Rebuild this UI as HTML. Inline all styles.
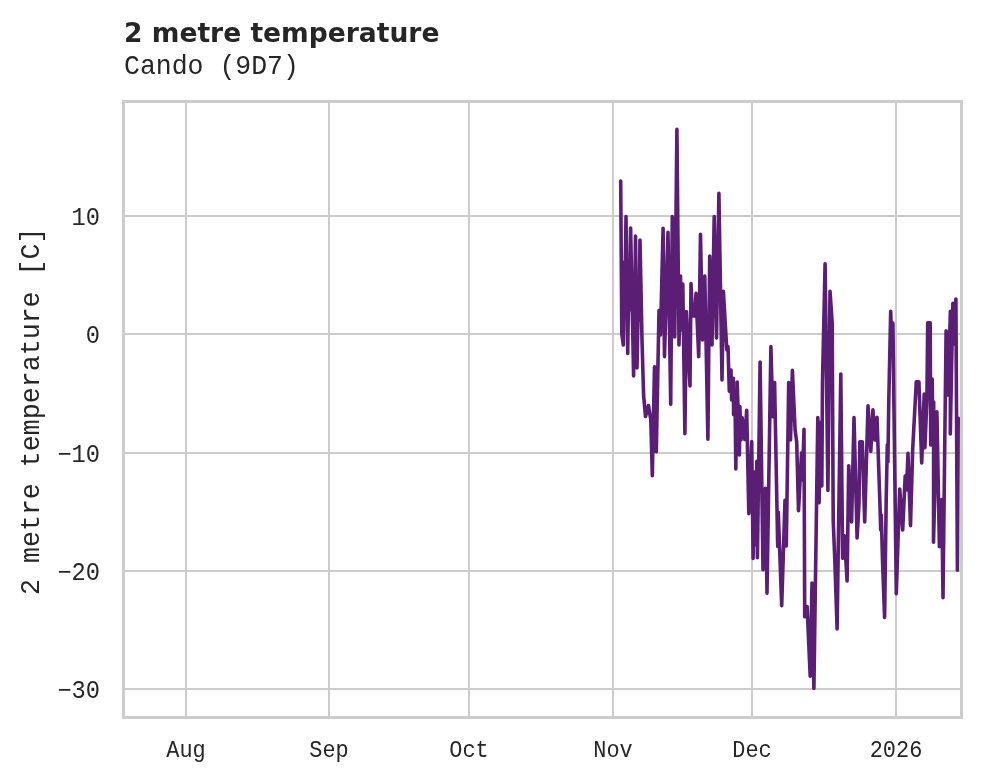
<!DOCTYPE html>
<html lang="en">
<head>
<meta charset="utf-8">
<title>2 metre temperature</title>
<style>
html,body{margin:0;padding:0;background:#fff;}
body{width:981px;height:782px;overflow:hidden;}
svg{display:block;}
.mono{font-family:"Liberation Mono","DejaVu Sans Mono",monospace;fill:#262626;}
.title{font-family:"DejaVu Sans","Liberation Sans",sans-serif;font-weight:bold;fill:#262626;}
.grid line{stroke:#cccccc;stroke-width:2;}
</style>
</head>
<body>
<svg width="981" height="782" viewBox="0 0 981 782">
<rect x="0" y="0" width="981" height="782" fill="#ffffff"/>
<g class="grid">
<line x1="186" y1="102" x2="186" y2="717"/>
<line x1="329" y1="102" x2="329" y2="717"/>
<line x1="469" y1="102" x2="469" y2="717"/>
<line x1="613" y1="102" x2="613" y2="717"/>
<line x1="752" y1="102" x2="752" y2="717"/>
<line x1="896" y1="102" x2="896" y2="717"/>
<line x1="124" y1="216" x2="961" y2="216"/>
<line x1="124" y1="334" x2="961" y2="334"/>
<line x1="124" y1="453" x2="961" y2="453"/>
<line x1="124" y1="571" x2="961" y2="571"/>
<line x1="124" y1="689" x2="961" y2="689"/>
</g>
<g id="series"><polyline fill="none" stroke="#5a1e75" stroke-width="3.6" stroke-linejoin="round" stroke-linecap="round" points="620.7,181 621.8,334 623.3,345 624.3,262 624.8,300 626,216.5 627.7,353.5 628.9,268 629.4,310 630.6,228 633.6,376 634.3,280 634.7,315 635.5,236 637,368 638.6,285 639,320 640,240 642,340 643.6,395 645.5,416.5 648.5,405.5 650.8,420 652.3,475.6 654.5,366.7 656.3,451.6 659,310.5 660.5,335 663.1,228.4 664.5,356.6 668,232.4 670.7,404.3 672.3,216.5 674.7,337 676.9,129.4 679,345 680.5,276 681.5,330 682.8,284 684.9,433.6 686.4,311.5 690,386 691,283.5 692.5,316 695,316 696,293.3 698.7,356.6 700.5,234.3 702.5,340 704.8,276 707.9,439.3 709.7,256 712,345 714.2,216.5 716.5,338 718.9,193.2 722,380 723.4,291.4 726.8,350 728,346.7 729.3,391.3 731,370 731.6,400 733.4,378.3 733.6,414.7 735,395 735.8,469 737.2,382 739.4,455 739.9,406.5 741,440 742.1,417.5 744.8,439.5 746.7,410.2 748.8,513.8 751.7,441.5 753.1,558.5 754.4,472 755.5,545 756.8,461.3 757.4,557.8 760.1,362 763,569.8 765.4,488.3 767,593.3 770.9,346.5 772.8,416.6 774.6,382.6 777.7,546.5 778.3,512.2 781.7,605.7 785,500.3 786.3,546 788.7,382.6 790.5,440 792.4,370.3 795.1,430 796.7,442 798.5,510.7 801.6,452.7 802.5,480 804,429.2 804.7,616.7 807.1,606.6 810.2,676.2 812,583 813.9,688.5 817.8,417.5 819.1,502.7 820.6,422.4 821.8,486 822.5,382 825.1,263.7 827.9,490.5 830,291.2 832.2,323 833.2,520 834.8,560 837.1,629 840.8,374 842.6,558.3 844.4,535.9 847.1,581 848.7,465.7 851.6,522 854,417.6 857.1,538 859,503.6 859.8,441.7 862.3,441.7 864.7,522 868,405.7 870.8,451.3 872.9,409.9 875,440 877,417.2 880,506 880.7,530 881.3,515 882.5,560 884.6,617.4 886.2,500 887.3,444.7 887.9,462 888.8,400 890.7,311.2 891.9,348 892.9,323 896.3,593.8 899.7,489 902.7,530 905.2,476.1 906.5,490 908,453.4 910.5,525.7 912.7,449 916.3,381.7 918.9,381.7 921.7,463 924.2,394.1 924.9,447.6 926.9,400 927.7,322.7 930.2,322.7 930.7,445 932.2,379 932.9,432 933.7,402 933.5,542.3 936.9,411.9 939.4,546.6 941.8,499.5 943,597.8 944.8,440 946.1,330.9 948,395 950.4,311.2 950.3,433.9 952,346 952.9,303.3 954,344 955.9,299 957.4,570.2 958.2,418"/></g>
<rect x="123.5" y="101.5" width="838" height="616" fill="none" stroke="#cccccc" stroke-width="3"/>
<text class="title" x="124" y="42" font-size="26.56">2 metre temperature</text>
<text class="mono" font-size="26.5" text-anchor="start" transform="translate(124,74) scale(1,1.06)">Cando (9D7)</text>
<text class="mono" font-size="23.7" text-anchor="end" transform="translate(100,225) scale(1,1.06)">10</text>
<text class="mono" font-size="23.7" text-anchor="end" transform="translate(100,343) scale(1,1.06)">0</text>
<text class="mono" font-size="23.7" text-anchor="end" transform="translate(100,462) scale(1,1.06)">−10</text>
<text class="mono" font-size="23.7" text-anchor="end" transform="translate(100,580) scale(1,1.06)">−20</text>
<text class="mono" font-size="23.7" text-anchor="end" transform="translate(100,698) scale(1,1.06)">−30</text>
<text class="mono" font-size="21.9" text-anchor="middle" transform="translate(186,756.5) scale(1,1.06)">Aug</text>
<text class="mono" font-size="21.9" text-anchor="middle" transform="translate(329,756.5) scale(1,1.06)">Sep</text>
<text class="mono" font-size="21.9" text-anchor="middle" transform="translate(469,756.5) scale(1,1.06)">Oct</text>
<text class="mono" font-size="21.9" text-anchor="middle" transform="translate(613,756.5) scale(1,1.06)">Nov</text>
<text class="mono" font-size="21.9" text-anchor="middle" transform="translate(752,756.5) scale(1,1.06)">Dec</text>
<text class="mono" font-size="21.9" text-anchor="middle" transform="translate(896,756.5) scale(1,1.06)">2026</text>
<text class="mono" font-size="26.64" text-anchor="middle" transform="translate(39.3,411.25) rotate(-90) scale(1,1.06)">2 metre temperature [C]</text>
</svg>
</body>
</html>
